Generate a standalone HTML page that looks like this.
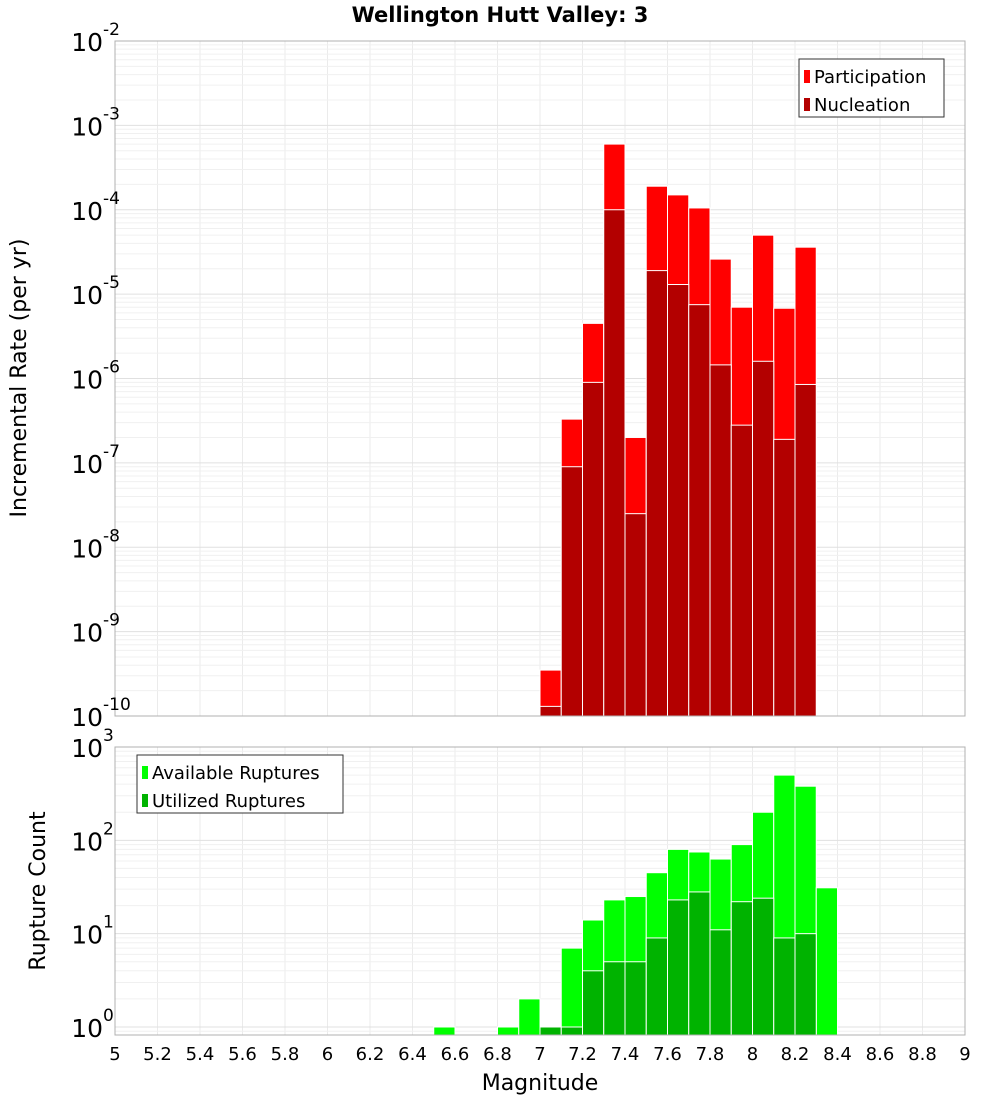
<!DOCTYPE html>
<html><head><meta charset="utf-8"><style>
body{margin:0;background:#fff;font-family:"DejaVu Sans","Liberation Sans",sans-serif}
svg text{font-family:"DejaVu Sans","Liberation Sans",sans-serif}
</style></head><body>
<svg id="c" width="1000" height="1100" xmlns="http://www.w3.org/2000/svg"></svg>
<script>
const binCenters=[7.05,7.15,7.25,7.35,7.45,7.55,7.65,7.75,7.85,7.95,8.05,8.15,8.25];
const participation=[3.5e-10,3.3e-7,4.5e-6,6e-4,2e-7,1.9e-4,1.5e-4,1.05e-4,2.6e-5,7e-6,5e-5,6.8e-6,3.6e-5];
const nucleation=[1.3e-10,9e-8,9e-7,1e-4,2.5e-8,1.9e-5,1.3e-5,7.5e-6,1.45e-6,2.8e-7,1.6e-6,1.9e-7,8.5e-7];
const countCenters=[6.55,6.85,6.95,7.05,7.15,7.25,7.35,7.45,7.55,7.65,7.75,7.85,7.95,8.05,8.15,8.25,8.35];
const available=[1,1,2,1,7,14,23,25,45,80,75,63,90,200,500,380,31];
const utilized=[0,0,0,1,1,4,5,5,9,23,28,11,22,24,9,10,0];
const xTicks=[5,5.2,5.4,5.6,5.8,6,6.2,6.4,6.6,6.8,7,7.2,7.4,7.6,7.8,8,8.2,8.4,8.6,8.8,9];
const topExp=[-2,-3,-4,-5,-6,-7,-8,-9,-10];
const botExp=[3,2,1,0];

const S=document.getElementById('c');const NS='http://www.w3.org/2000/svg';
function el(t,a,p){const e=document.createElementNS(NS,t);for(const k in a)e.setAttribute(k,a[k]);(p||S).appendChild(e);return e;}
const X0=115,X1=965;
const xs=v=>X0+(v-5)/4*(X1-X0);
const T={top:41,bot:716,lo:-10,hi:-2};
const B={top:747,bot:1035,lo:Math.log10(0.82),hi:Math.log10(1000)*1.0};
const b1000=1027; // y of 1e0
function yT(v){return T.bot-(Math.log10(v)-T.lo)/(T.hi-T.lo)*(T.bot-T.top);}
const bppd=(b1000-747)/3;
function yB(v){return b1000-Math.log10(v)*bppd;}

// title
let t=el('text',{x:500,y:22,'text-anchor':'middle','font-size':21,'font-weight':'bold'});t.textContent='Wellington Hutt Valley: 3';


function grid(top,bot,yf,decLo,decHi,name){
  const g=el('g',{});
  for(let v=5;v<=9.001;v+=0.2){el('line',{x1:xs(v),x2:xs(v),y1:top,y2:bot,stroke:'#ebebeb'},g);}
  for(let d=decLo;d<decHi;d++)for(let m=1;m<10;m++){const y=yf(m*Math.pow(10,d));if(y>=top&&y<=bot)el('line',{x1:X0,x2:X1,y1:y,y2:y,stroke:m==1?'#e0e0e0':'#f0f0f0'},g);}
}
grid(T.top,T.bot,yT,-10,-2,'top-grid');
grid(B.top,B.bot,yB,-1,3,'bottom-grid');

function bar(cx,v,yf,base,fill,name){const w=xs(0.1)-xs(0);const y=yf(v);
  const r=el('rect',{x:xs(cx-0.05),y:y,width:w,height:base-y,fill:fill,stroke:'#fff','stroke-width':1});
  }
binCenters.forEach((c,i)=>{bar(c,participation[i],yT,T.bot,'#ff0000','participation-bar');});
binCenters.forEach((c,i)=>{bar(c,nucleation[i],yT,T.bot,'#b30000','nucleation-bar');});
countCenters.forEach((c,i)=>{if(available[i]>0)bar(c,available[i],yB,B.bot,'#00ff00','available-bar');});
countCenters.forEach((c,i)=>{if(utilized[i]>0)bar(c,utilized[i],yB,B.bot,'#00b300','utilized-bar');});

// frames
el('rect',{x:X0,y:T.top,width:X1-X0,height:T.bot-T.top,fill:'none',stroke:'#b0b0b0'});
el('rect',{x:X0,y:B.top,width:X1-X0,height:B.bot-B.top,fill:'none',stroke:'#b0b0b0'});

// y tick labels
function ylab(y,e,name){const g=el('g',{});
  const a=el('text',{x:103,y:y+10,'text-anchor':'end','font-size':25},g);a.textContent='10';
  const b=el('text',{x:103,y:y-6,'text-anchor':'start','font-size':17},g);b.textContent=String(e);}
topExp.forEach(e=>ylab(yT(Math.pow(10,e)),e,'y-tick-top'));
botExp.forEach(e=>ylab(yB(Math.pow(10,e)),e,'y-tick-bottom'));
// x tick labels
xTicks.forEach(v=>{const tx=el('text',{x:xs(v),y:1060,'text-anchor':'middle','font-size':18});tx.textContent=String(v);
  });

let xl=el('text',{x:540,y:1090,'text-anchor':'middle','font-size':22});xl.textContent='Magnitude';

let y1=el('text',{x:0,y:0,'text-anchor':'middle','font-size':22,transform:'translate(26,378) rotate(-90)'});y1.textContent='Incremental Rate (per yr)';

let y2=el('text',{x:0,y:0,'text-anchor':'middle','font-size':22,transform:'translate(45,891) rotate(-90)'});y2.textContent='Rupture Count';


function legend(x,y,w,items,name){const g=el('g',{});
  el('rect',{x:x,y:y,width:w,height:58,fill:'#fff',stroke:'#333'},g);
  items.forEach((it,i)=>{el('rect',{x:x+5,y:y+11+i*28,width:6,height:13,fill:it[1]},g);
    const tx=el('text',{x:x+15,y:y+24+i*28,'font-size':18},g);tx.textContent=it[0];});}
legend(799,59,145,[['Participation','#ff0000'],['Nucleation','#b30000']],'legend-top');
legend(137,755,206,[['Available Ruptures','#00ff00'],['Utilized Ruptures','#00b300']],'legend-bottom');
</script>
</body></html>
